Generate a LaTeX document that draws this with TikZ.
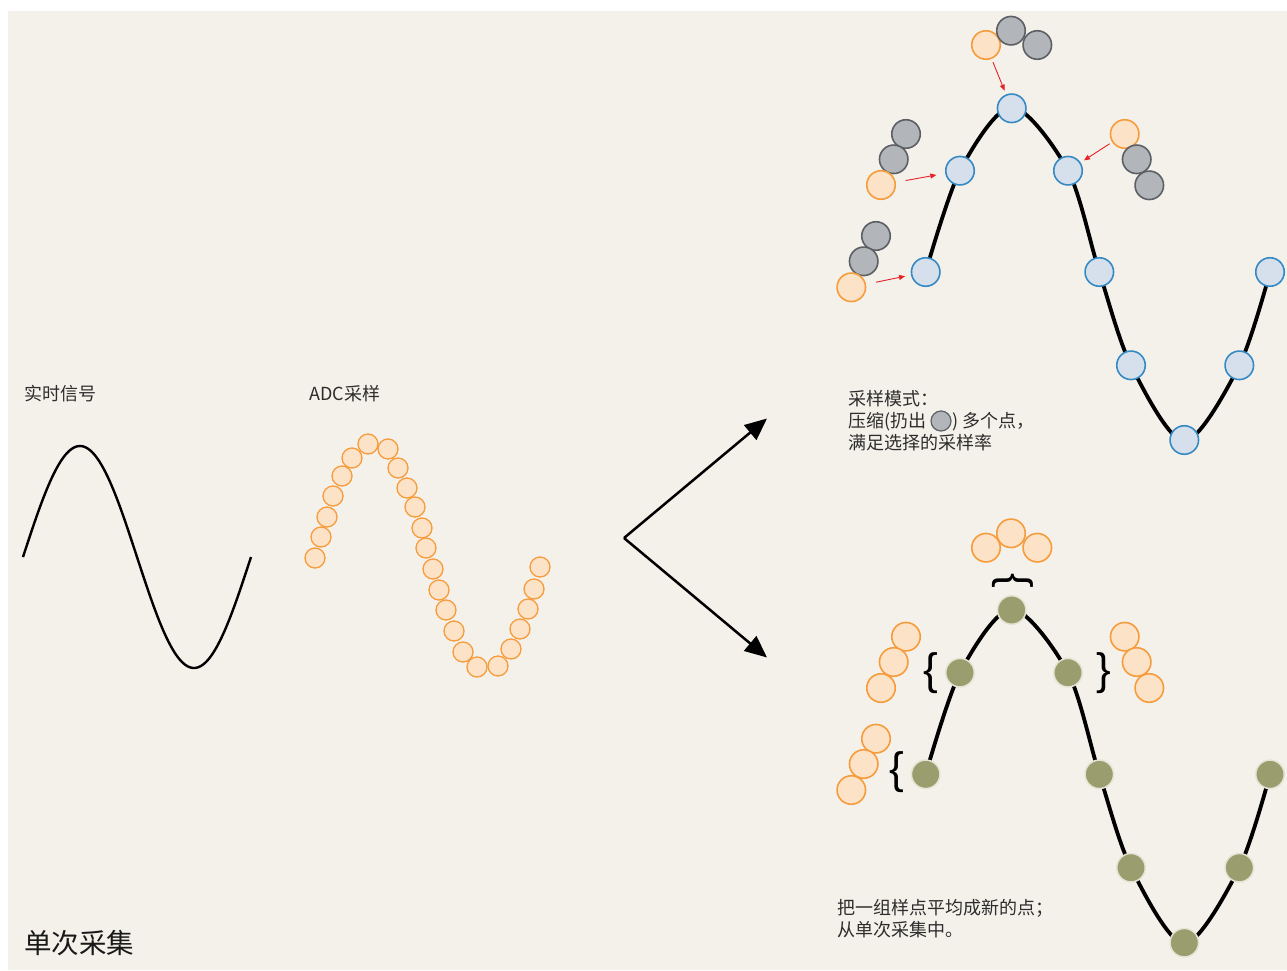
\documentclass[tikz,border=0pt]{standalone}
\usepackage{fontspec}
\newfontfamily\cjk{Noto Sans CJK SC}
\newfontfamily\bracefont{Liberation Sans}
\usetikzlibrary{arrows.meta}
\definecolor{bgbeige}{RGB}{244,241,234}
\definecolor{orfill}{RGB}{252,226,198}
\definecolor{ordraw}{RGB}{246,156,60}
\definecolor{grfill}{RGB}{178,182,186}
\definecolor{grdraw}{RGB}{92,96,101}
\definecolor{blfill}{RGB}{214,223,236}
\definecolor{bldraw}{RGB}{54,138,196}
\definecolor{olfill}{RGB}{154,157,110}
\definecolor{oldraw}{RGB}{228,228,212}
\definecolor{redarrow}{RGB}{232,34,40}
\definecolor{textgray}{RGB}{45,45,45}
\begin{document}
\begin{tikzpicture}[x=1pt,y=-1pt,
  adc/.style={circle,inner sep=0pt,minimum size=20pt,fill=orfill,draw=ordraw,line width=1.3pt},
  orc/.style={circle,inner sep=0pt,minimum size=28.5pt,fill=orfill,draw=ordraw,line width=1.6pt},
  grc/.style={circle,inner sep=0pt,minimum size=28.5pt,fill=grfill,draw=grdraw,line width=1.6pt},
  blc/.style={circle,inner sep=0pt,minimum size=28.5pt,fill=blfill,draw=bldraw,line width=1.6pt},
  olc/.style={circle,inner sep=0pt,minimum size=28.5pt,fill=olfill,draw=oldraw,line width=1.5pt},
  smallgr/.style={circle,inner sep=0pt,minimum size=20pt,fill=grfill,draw=grdraw,line width=1.2pt},
  wave/.style={line width=3.8pt,black},
  bigarrow/.style={line width=2.5pt,-{Triangle[length=22pt,width=19pt]}},
  redarr/.style={draw=redarrow,line width=0.9pt,-{Triangle[length=6pt,width=5pt]}},
  txt/.style={font=\cjk\fontsize{18}{22}\selectfont,text=textgray,inner sep=0pt,align=left},
  bracetxt/.style={font=\bracefont\fontsize{44}{44}\selectfont,inner sep=0pt,text=black}
]
\useasboundingbox (0,0) rectangle (1287,971);
\fill[white] (0,0) rectangle (1287,971);
\fill[bgbeige] (8,11) rectangle (1287,970);

% real-time signal
\node[txt,anchor=west] (lbl1) at (24,394) {实时信号};
\draw[line width=2.4pt] plot[domain=23:251,samples=120,smooth] (\x,{557-111*sin((\x-23)*1.5789474)});

% ADC samples
\node[txt,anchor=west] (lbl2) at (309,394) {ADC采样};
\foreach \px/\py [count=\i] in {315/558,321/537,327/517,333/496,342/476,352/458,368/444,388/449,398/468,407/488,415/507,422/528,426/548,433/569,439/590,446/610,454/631,463/652,477/667,498/666,511/649,520/629,528/609,534/589,540/567}
  \node[adc] (a\i) at (\px,\py) {};

% splitting arrows
\coordinate (split) at (624,538);
\coordinate (upend) at (767,418.5);
\coordinate (downend) at (767,657.5);
\draw[bigarrow] (split) -- (upend);
\draw[bigarrow] (split) -- (downend);

% ---------- top right: decimation ----------
\draw[wave] plot[smooth] coordinates {(925.7,272) (960,170.7) (1011.7,107) (1068,170.7) (1099.3,272) (1131,365.3) (1184.3,441) (1239.3,365.3) (1270,272)};
\foreach \px/\py [count=\i] in {925.7/272,960/170.7,1011.7/108.3,1068/170.7,1099.3/272,1131/365.3,1184.3/440,1239.3/365.3,1270/272}
  \node[blc] (b\i) at (\px,\py) {};

% top group
\node[orc] (to1) at (986,45) {};
\node[grc] (tg1) at (1011,30.7) {};
\node[grc] (tg2) at (1037.3,45) {};
% left upper group
\node[grc] (lug1) at (906,134) {};
\node[grc] (lug2) at (893.7,159.3) {};
\node[orc] (luo) at (881,185) {};
% right group
\node[orc] (ro) at (1124.7,134) {};
\node[grc] (rg1) at (1136.7,159.3) {};
\node[grc] (rg2) at (1149.3,185.3) {};
% left lower group
\node[grc] (llg1) at (876,236) {};
\node[grc] (llg2) at (863.7,261.3) {};
\node[orc] (llo) at (851.3,287.3) {};

\draw[redarr,shorten <=3.5pt,shorten >=4pt] (to1) -- (b3);
\draw[redarr,shorten <=10pt,shorten >=9pt] (luo) -- (b2);
\draw[redarr,shorten <=3pt,shorten >=4pt] (ro) -- (b4);
\draw[redarr,shorten <=10pt,shorten >=6pt] (llo) -- (b1);

\node[txt,anchor=north west] (mode) at (848,390) {采样模式：\\压缩(扔出\hspace{26pt}) 多个点，\\满足选择的采样率};
\node[smallgr] (inlinegr) at (941,421) {};

% ---------- bottom right: averaging ----------
\draw[wave] plot[smooth] coordinates {(925.7,774.3) (960,672.7) (1011.7,609) (1068,672.7) (1099.3,774.3) (1131,867.7) (1184.3,943.5) (1239.3,867.7) (1270,774.3)};
\foreach \px/\py [count=\i] in {925.7/774.3,960/672.7,1011.7/610,1068/672.7,1099.3/774.3,1131/867.7,1184.3/942.7,1239.3/867.7,1270/774.3}
  \node[olc] (g\i) at (\px,\py) {};

\node[orc] (bt2) at (1011,533.3) {};
\node[orc] (bt1) at (986,547.7) {};
\node[orc] (bt3) at (1037.3,547.7) {};
\node[orc] (bl1) at (906,636.7) {};
\node[orc] (bl2) at (893.7,662) {};
\node[orc] (bl3) at (881,688) {};
\node[orc] (br1) at (1124.7,636.7) {};
\node[orc] (br2) at (1136.7,662) {};
\node[orc] (br3) at (1149.3,688) {};
\node[orc] (bb1) at (876,738.7) {};
\node[orc] (bb2) at (863.7,764) {};
\node[orc] (bb3) at (851.3,790) {};

\node[bracetxt,rotate=-90] (brtop) at (1012.5,581) {\{};
\node[bracetxt] (brleft) at (930.5,673.3) {\{};
\node[bracetxt] (brright) at (1104,673.3) {\}};
\node[bracetxt] (brlow) at (897,772.5) {\{};

\node[txt,anchor=north west] (avg) at (837,899.5) {把一组样点平均成新的点；\\从单次采集中。};

% title
\node[txt,anchor=west,font=\cjk\fontsize{27.5}{30}\selectfont,text=black!90] (title) at (24,943) {单次采集};
\end{tikzpicture}
\end{document}
